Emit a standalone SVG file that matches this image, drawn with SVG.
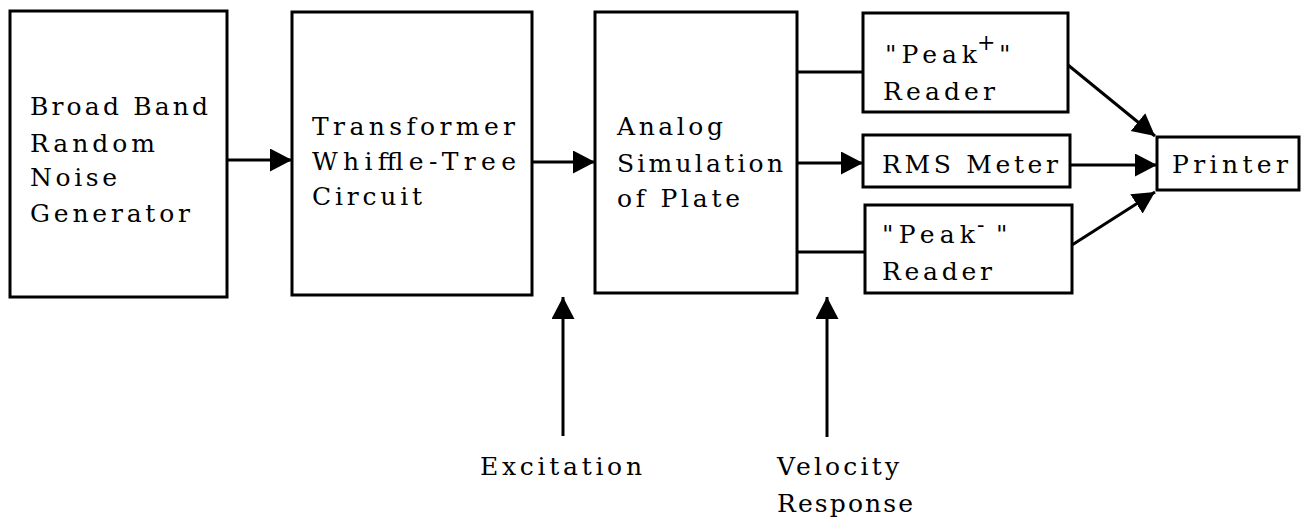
<svg xmlns="http://www.w3.org/2000/svg" width="1302" height="518" viewBox="0 0 1302 518">
<style>
  .box { fill: #fff; stroke: #000; stroke-width: 3; }
  .t { font-family: "DejaVu Serif", "Liberation Serif", serif; font-size: 25px; fill: #000; }
  .sup { font-family: "DejaVu Serif", "Liberation Serif", serif; font-size: 22px; fill: #000; }
  .c { stroke: #000; stroke-width: 3; fill: none; }
</style>
<defs>
  <marker id="ah" markerUnits="userSpaceOnUse" markerWidth="24" markerHeight="24" refX="22" refY="11.5" orient="auto">
    <path d="M0,0 L22,11.5 L0,23 z" fill="#000"/>
  </marker>
</defs>
<rect width="1302" height="518" fill="#fff"/>
<g id="connectors">
  <line class="c" x1="227" y1="160" x2="292" y2="160" marker-end="url(#ah)"/>
  <line class="c" x1="532" y1="162" x2="595" y2="162" marker-end="url(#ah)"/>
  <line class="c" x1="797" y1="72" x2="863" y2="72"/>
  <line class="c" x1="797" y1="163" x2="863" y2="163" marker-end="url(#ah)"/>
  <line class="c" x1="797" y1="252" x2="865" y2="252"/>
  <line class="c" x1="1070" y1="165" x2="1157" y2="165" marker-end="url(#ah)"/>
  <line class="c" x1="1068" y1="65" x2="1155" y2="136" marker-end="url(#ah)"/>
  <line class="c" x1="1072" y1="245" x2="1155" y2="192" marker-end="url(#ah)"/>
  <line class="c" x1="563" y1="436" x2="563" y2="297" marker-end="url(#ah)"/>
  <line class="c" x1="827" y1="437" x2="827" y2="297" marker-end="url(#ah)"/>
</g>
<g id="generator">
  <rect class="box" x="10" y="11" width="217" height="286"/>
  <text class="t" x="30" y="115" textLength="178" lengthAdjust="spacing">Broad Band</text>
  <text class="t" x="30" y="152" textLength="125" lengthAdjust="spacing">Random</text>
  <text class="t" x="30" y="186" textLength="87" lengthAdjust="spacing">Noise</text>
  <text class="t" x="30" y="222" textLength="160" lengthAdjust="spacing">Generator</text>
</g>
<g id="whiffle">
  <rect class="box" x="292" y="12" width="240" height="283"/>
  <text class="t" x="312" y="135" textLength="203" lengthAdjust="spacing">Transformer</text>
  <text class="t" x="312" y="170" textLength="204" lengthAdjust="spacing">Whiffle-Tree</text>
  <text class="t" x="312" y="205" textLength="110" lengthAdjust="spacing">Circuit</text>
</g>
<g id="analog">
  <rect class="box" x="595" y="12" width="202" height="281"/>
  <text class="t" x="617" y="135" textLength="106" lengthAdjust="spacing">Analog</text>
  <text class="t" x="617" y="172" textLength="166" lengthAdjust="spacing">Simulation</text>
  <text class="t" x="617" y="207" textLength="123" lengthAdjust="spacing">of Plate</text>
</g>
<g id="peakplus">
  <rect class="box" x="863" y="13" width="205" height="99"/>
  <text class="t" x="885" y="63" textLength="92" lengthAdjust="spacing">"Peak</text>
  <text class="sup" x="977" y="50">+</text>
  <text class="t" x="999" y="63">"</text>
  <text class="t" x="883" y="100" textLength="112" lengthAdjust="spacing">Reader</text>
</g>
<g id="rms">
  <rect class="box" x="863" y="135" width="207" height="52"/>
  <text class="t" x="882" y="173" textLength="176" lengthAdjust="spacing">RMS Meter</text>
</g>
<g id="peakminus">
  <rect class="box" x="865" y="205" width="207" height="88"/>
  <text class="t" x="882" y="243" textLength="93" lengthAdjust="spacing">"Peak</text>
  <text class="sup" x="977" y="232">-</text>
  <text class="t" x="996" y="243">"</text>
  <text class="t" x="882" y="280" textLength="110" lengthAdjust="spacing">Reader</text>
</g>
<g id="printer">
  <rect class="box" x="1157" y="137" width="142" height="53"/>
  <text class="t" x="1172" y="173" textLength="116" lengthAdjust="spacing">Printer</text>
</g>
<g id="labels">
  <text class="t" x="480" y="475" textLength="162" lengthAdjust="spacing">Excitation</text>
  <text class="t" x="777" y="475" textLength="122" lengthAdjust="spacing">Velocity</text>
  <text class="t" x="777" y="512" textLength="136" lengthAdjust="spacing">Response</text>
</g>
</svg>
